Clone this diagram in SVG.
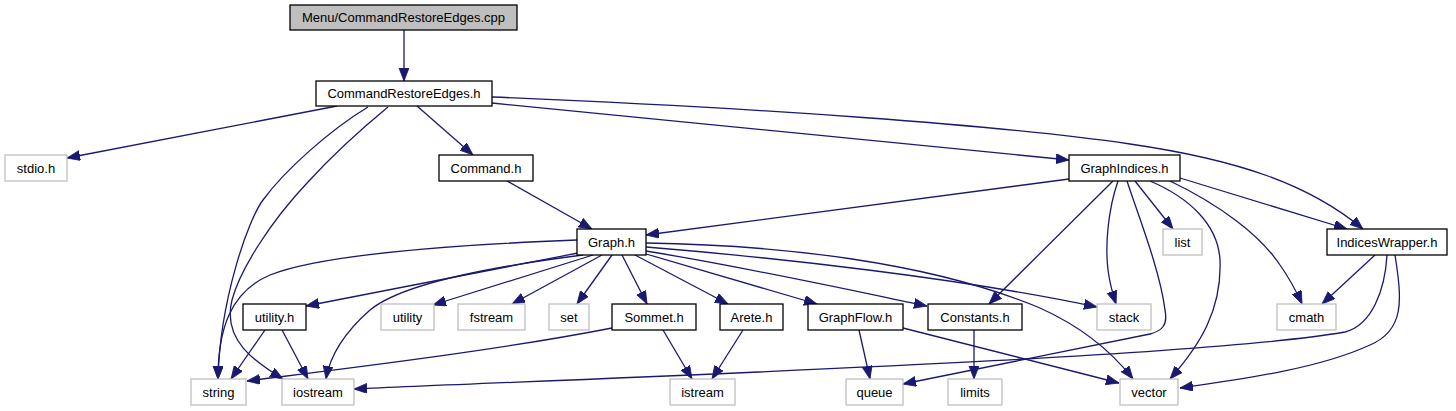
<svg xmlns="http://www.w3.org/2000/svg" width="1456" height="411" viewBox="0 0 1456 411">
<style>
.n rect{fill:#ffffff;stroke:#000000;stroke-width:1.3}
.n.ext rect{stroke:#bfbfbf}
.n.root rect{fill:#bfbfbf}
.n text{font-family:"Liberation Sans",Arial,sans-serif;font-size:13px;text-anchor:middle;fill:#000000}
#edges path{fill:none;stroke:#191970;stroke-width:1.3;marker-end:url(#ah)}
</style>
<defs>
<marker id="ah" markerUnits="userSpaceOnUse" markerWidth="14" markerHeight="11" refX="13" refY="5" orient="auto">
<path d="M0,0 L13,5 L0,10 z" fill="#191970" stroke="#191970" stroke-width="0.8"/>
</marker>
</defs>
<rect width="1456" height="411" fill="#ffffff"/>
<g id="edges">
<path d="M404,30 L404,81"/>
<path d="M337,106 L67,158"/>
<path d="M417,106 L473,155"/>
<path d="M368,107 C330,130 285,170 263,200 C248,220 220,300 218,379"/>
<path d="M388,107 C360,130 330,158 308,182 C270,222 240,270 232,300 C222,340 255,362 283,379"/>
<path d="M492,103 L1069,160"/>
<path d="M492,97 C760,108 1000,125 1130,144 C1240,160 1310,185 1363,229"/>
<path d="M507,181 L592,229"/>
<path d="M1069,179 L646,235"/>
<path d="M577,240 C450,245 320,255 270,275 C230,292 218,330 218,379"/>
<path d="M583,255 C480,268 400,285 370,310 C345,332 330,355 326,379"/>
<path d="M578,253 L306,306"/>
<path d="M593,255 L433,305"/>
<path d="M602,255 L512,304"/>
<path d="M612,255 L577,304"/>
<path d="M622,255 L647,304"/>
<path d="M635,255 L728,304"/>
<path d="M646,254 L817,304"/>
<path d="M646,251 C750,268 850,290 927,306"/>
<path d="M646,247 C780,258 960,278 1097,307"/>
<path d="M646,243 C780,245 930,262 1040,308 C1080,326 1112,352 1133,379"/>
<path d="M265,330 L231,379"/>
<path d="M282,330 L308,379"/>
<path d="M612,328 C500,350 350,368 247,381"/>
<path d="M663,330 L692,379"/>
<path d="M743,330 L712,379"/>
<path d="M859,330 L870,379"/>
<path d="M903,328 L1119,383"/>
<path d="M974,330 L974,379"/>
<path d="M1113,181 L989,304"/>
<path d="M1118,181 C1108,210 1105,245 1108,270 C1110,285 1113,295 1116,304"/>
<path d="M1127,181 C1138,215 1160,270 1165,310 C1168,325 1162,331 1150,334 L903,384"/>
<path d="M1135,181 L1173,229"/>
<path d="M1150,181 C1190,198 1218,225 1220,260 C1222,310 1200,345 1170,379"/>
<path d="M1170,181 C1220,205 1260,235 1280,265 C1292,282 1298,295 1302,304"/>
<path d="M1180,178 L1347,229"/>
<path d="M1375,255 L1322,304"/>
<path d="M1387,255 C1385,290 1372,325 1345,332 C1200,358 600,378 354,389"/>
<path d="M1395,255 C1402,300 1405,330 1370,345 C1320,368 1250,378 1180,388"/>
</g>
<g id="n_cpp" class="n root"><rect x="290" y="5" width="227" height="25"/><text x="403.5" y="22">Menu/CommandRestoreEdges.cpp</text></g>
<g id="n_cre" class="n"><rect x="316" y="81" width="176" height="25"/><text x="404" y="98">CommandRestoreEdges.h</text></g>
<g id="n_stdio" class="n ext"><rect x="5" y="155" width="62" height="26"/><text x="36" y="172.5">stdio.h</text></g>
<g id="n_command" class="n"><rect x="439" y="155" width="94" height="26"/><text x="486" y="172.5">Command.h</text></g>
<g id="n_graphindices" class="n"><rect x="1069" y="155" width="111" height="26"/><text x="1124.5" y="172.5">GraphIndices.h</text></g>
<g id="n_graph" class="n"><rect x="577" y="229" width="69" height="26"/><text x="611.5" y="246.5">Graph.h</text></g>
<g id="n_list" class="n ext"><rect x="1163" y="229" width="39" height="26"/><text x="1182.5" y="246.5">list</text></g>
<g id="n_indiceswrapper" class="n"><rect x="1327" y="229" width="120" height="26"/><text x="1387" y="246.5">IndicesWrapper.h</text></g>
<g id="n_utilityh" class="n"><rect x="243" y="304" width="63" height="26"/><text x="274.5" y="321.5">utility.h</text></g>
<g id="n_utility" class="n ext"><rect x="381" y="304" width="53" height="26"/><text x="407.5" y="321.5">utility</text></g>
<g id="n_fstream" class="n ext"><rect x="458" y="304" width="67" height="26"/><text x="491.5" y="321.5">fstream</text></g>
<g id="n_set" class="n ext"><rect x="549" y="304" width="40" height="26"/><text x="569" y="321.5">set</text></g>
<g id="n_sommet" class="n"><rect x="612" y="304" width="84" height="26"/><text x="654" y="321.5">Sommet.h</text></g>
<g id="n_arete" class="n"><rect x="720" y="304" width="63" height="26"/><text x="751.5" y="321.5">Arete.h</text></g>
<g id="n_graphflow" class="n"><rect x="808" y="304" width="95" height="26"/><text x="855.5" y="321.5">GraphFlow.h</text></g>
<g id="n_constants" class="n"><rect x="928" y="304" width="94" height="26"/><text x="975" y="321.5">Constants.h</text></g>
<g id="n_stack" class="n ext"><rect x="1097" y="304" width="54" height="26"/><text x="1124" y="321.5">stack</text></g>
<g id="n_cmath" class="n ext"><rect x="1277" y="304" width="59" height="26"/><text x="1306.5" y="321.5">cmath</text></g>
<g id="n_string" class="n ext"><rect x="191" y="379" width="55" height="26"/><text x="218.5" y="396.5">string</text></g>
<g id="n_iostream" class="n ext"><rect x="282" y="379" width="72" height="26"/><text x="318" y="396.5">iostream</text></g>
<g id="n_istream" class="n ext"><rect x="670" y="379" width="65" height="26"/><text x="702.5" y="396.5">istream</text></g>
<g id="n_queue" class="n ext"><rect x="846" y="379" width="57" height="26"/><text x="874.5" y="396.5">queue</text></g>
<g id="n_limits" class="n ext"><rect x="948" y="379" width="54" height="26"/><text x="975" y="396.5">limits</text></g>
<g id="n_vector" class="n ext"><rect x="1120" y="379" width="58" height="26"/><text x="1149" y="396.5">vector</text></g>
</svg>
